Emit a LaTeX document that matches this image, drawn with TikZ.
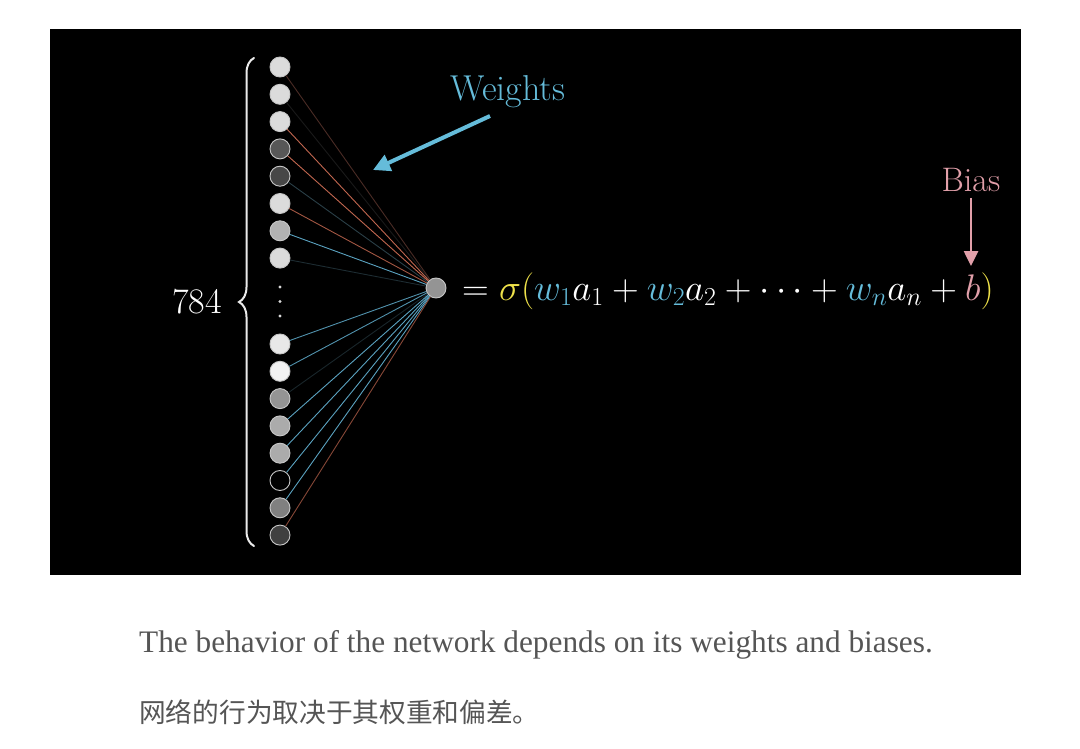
\RequirePackage{fix-cm}
\documentclass[tikz,border=0pt]{standalone}
\usepackage{fontspec}
\newfontfamily\capfont{Liberation Serif}
\newfontfamily\cjk{Noto Sans CJK SC}
\usetikzlibrary{arrows.meta,decorations.pathreplacing}
\definecolor{wblue}{HTML}{65BCDA}
\definecolor{bpink}{HTML}{E2A0AA}
\definecolor{syel}{HTML}{EFE24A}
\definecolor{capgray}{HTML}{555555}
\definecolor{eorange}{HTML}{C0664F}
\definecolor{eblue}{HTML}{5AA2C0}
\definecolor{edark}{HTML}{2A3F47}
\definecolor{ebrown}{HTML}{4A2C25}
\begin{document}
\begin{tikzpicture}[x=1pt,y=-1pt,
  neuron/.style={circle,minimum size=20pt,inner sep=0pt,draw=black!22!white,line width=0.9pt},
  edge/.style={line width=0.9pt},
  bigtext/.style={font=\fontsize{33}{40}\selectfont,inner sep=0pt}]
\fill[white] (0,0) rectangle (1080,749);
\fill[black] (50,29) rectangle (1021,575);
% input neurons
\node[neuron,fill=black!14] (i1) at (280,67) {};
\node[neuron,fill=black!14] (i2) at (280,94.3) {};
\node[neuron,fill=black!14] (i3) at (280,121.6) {};
\node[neuron,fill=black!66] (i4) at (280,148.9) {};
\node[neuron,fill=black!72] (i5) at (280,176.2) {};
\node[neuron,fill=black!14] (i6) at (280,203.5) {};
\node[neuron,fill=black!30] (i7) at (280,230.8) {};
\node[neuron,fill=black!14] (i8) at (280,258.1) {};
\node[neuron,fill=black!9] (i9) at (280,344) {};
\node[neuron,fill=black!5] (i10) at (280,371.3) {};
\node[neuron,fill=black!42] (i11) at (280,398.6) {};
\node[neuron,fill=black!33] (i12) at (280,425.9) {};
\node[neuron,fill=black!33] (i13) at (280,453.2) {};
\node[neuron,fill=black] (i14) at (280,480.5) {};
\node[neuron,fill=black!50] (i15) at (280,507.8) {};
\node[neuron,fill=black!75] (i16) at (280,535.1) {};
\node[neuron,fill=black!42] (out) at (436,288) {};
% vertical dots
\foreach \yy in {287,301.5,316}
  \fill[white!85!black] (280,\yy) circle (1.6pt);
% edges
\draw[edge,ebrown] (i1) -- (out);
\draw[edge,black!80!white,opacity=0.5] (i2) -- (out);
\draw[edge,eorange] (i3) -- (out);
\draw[edge,eorange] (i4) -- (out);
\draw[edge,edark] (i5) -- (out);
\draw[edge,eorange!85!black] (i6) -- (out);
\draw[edge,eblue] (i7) -- (out);
\draw[edge,edark!70!black] (i8) -- (out);
\draw[edge,eblue!90!black] (i9) -- (out);
\draw[edge,eblue!90!black] (i10) -- (out);
\draw[edge,edark!60!black] (i11) -- (out);
\draw[edge,eblue] (i12) -- (out);
\draw[edge,eblue] (i13) -- (out);
\draw[edge,eblue] (i14) -- (out);
\draw[edge,eblue] (i15) -- (out);
\draw[edge,eorange!70!black] (i16) -- (out);
% brace
\coordinate (bb) at (254,546);
\coordinate (bt) at (254,58);
\draw[white!92!black,line width=2pt,line cap=round,decorate,decoration={brace,amplitude=15pt}] (bb) -- (bt);
\node[bigtext,text=white,anchor=base east,font=\fontsize{36}{40}\selectfont] (n784) at (222,313) {784};
% formula
\node[bigtext,text=white,anchor=base west,font=\fontsize{37}{42}\selectfont] (eq) at (462,300)
  {$=\textcolor{syel}{\sigma(}\textcolor{wblue}{w_1}a_1+\textcolor{wblue}{w_2}a_2+\cdots+\textcolor{wblue}{w_n}a_n+\textcolor{bpink}{b}\textcolor{syel}{)}$};
% weights label and arrow
\node[bigtext,text=wblue,anchor=base,font=\fontsize{36}{40}\selectfont] (wlab) at (508,101) {Weights};
\coordinate (wa) at (490,116);
\coordinate (wb) at (373,170);
\draw[wblue,line width=4pt,-{Triangle[length=17pt,width=17pt]}] (wa) -- (wb);
% bias label and arrow
\node[bigtext,text=bpink,anchor=base,font=\fontsize{34}{40}\selectfont] (blab) at (971,192) {Bias};
\coordinate (ba) at (971,198);
\coordinate (bz) at (971,266);
\draw[bpink,line width=2.6pt,-{Triangle[length=15pt,width=14pt]}] (ba) -- (bz);
% captions
\node[anchor=base west,inner sep=0pt,text=capgray,font=\capfont\fontsize{31.3}{36}\selectfont] (cap1) at (139,652) {The behavior of the network depends on its weights and biases.};
\node[anchor=base west,inner sep=0pt,text=capgray,font=\cjk\fontsize{26.7}{30}\selectfont] (cap2) at (139,722) {网络的行为取决于其权重和偏差。};
\end{tikzpicture}
\end{document}
